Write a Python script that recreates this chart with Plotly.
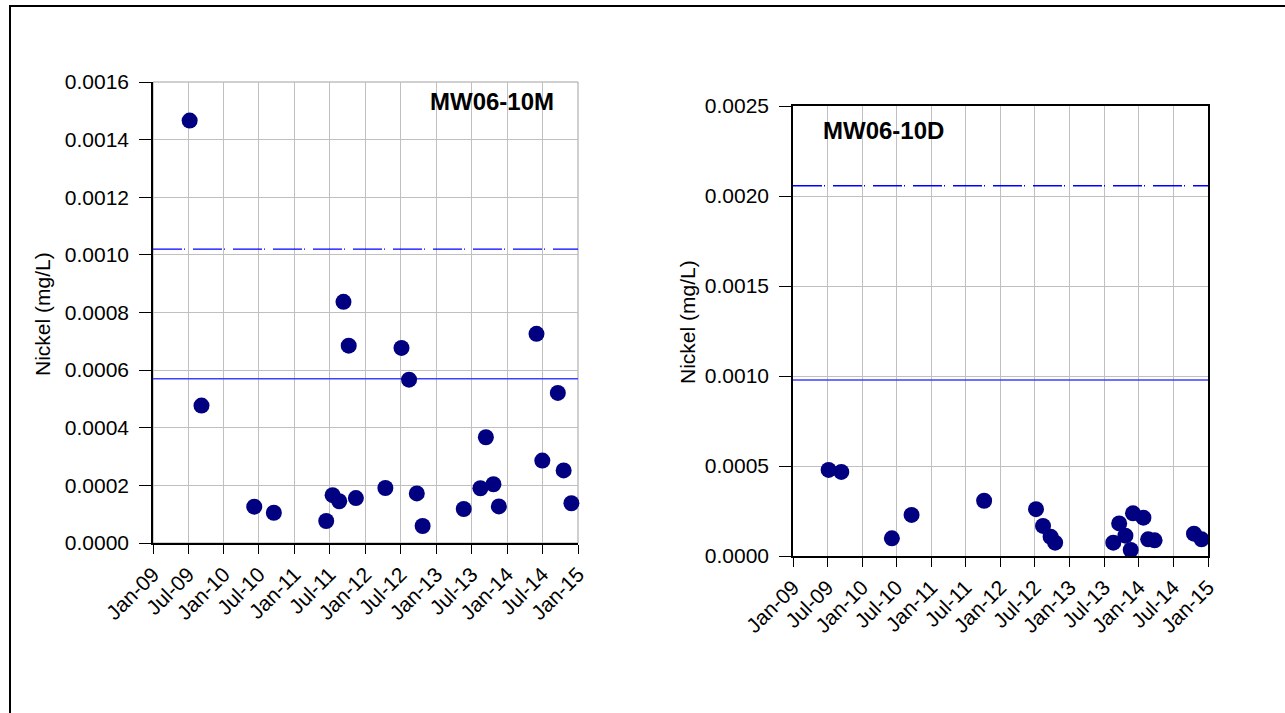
import plotly.graph_objects as go

# Monitoring well MW06-10M: nickel results
m_dates = [
    "2009-07-09", "2009-09-08", "2010-06-07", "2010-09-16", "2011-06-13",
    "2011-07-16", "2011-08-19", "2011-09-10", "2011-10-07", "2011-11-13",
    "2012-04-13", "2012-07-05", "2012-08-13", "2012-09-22", "2012-10-22",
    "2013-05-22", "2013-08-16", "2013-09-13", "2013-10-22", "2013-11-19",
    "2014-06-01", "2014-07-01", "2014-09-19", "2014-10-19", "2014-11-28",
]
m_nickel = [
    0.001466, 0.000477, 0.000126, 0.000105, 0.0000764,
    0.000166, 0.000145, 0.000837, 0.000685, 0.000156,
    0.000191, 0.000677, 0.000567, 0.000172, 0.000059,
    0.000118, 0.000190, 0.000367, 0.000204, 0.000127,
    0.000726, 0.000286, 0.000521, 0.000252, 0.000138,
]
m_upper_limit = 0.00102   # dash-dot guideline
m_lower_limit = 0.00057   # solid guideline

# Monitoring well MW06-10D: nickel results
d_dates = [
    "2009-07-08", "2009-09-13", "2010-06-07", "2010-09-19", "2011-10-07",
    "2012-07-07", "2012-08-13", "2012-09-22", "2012-10-16", "2013-08-19",
    "2013-09-19", "2013-10-22", "2013-11-19", "2013-12-01", "2014-01-25",
    "2014-02-19", "2014-03-25", "2014-10-19", "2014-11-28",
]
d_nickel = [
    0.000478, 0.000467, 0.0000983, 0.000228, 0.000307,
    0.000260, 0.000167, 0.000107, 0.000074, 0.000074,
    0.000181, 0.000113, 0.0000333, 0.000237, 0.000213,
    0.0000927, 0.000087, 0.000124, 0.0000927,
]
d_upper_limit = 0.002057
d_lower_limit = 0.000978

x_span = ["2009-01-01", "2015-01-01"]
y_title = "Nickel (mg/L)"

W, H = 1285, 713
FONT = "Liberation Sans, Arial, sans-serif"
MARKER = "#000080"
GRID = "#C0C0C0"
DASH_BLUE = "#0000FF"
SOLID_BLUE = "#4040FF"


def px_x(p):
    return p / W


def px_y(p):
    return 1 - p / H


fig = go.Figure()

panels = [
    dict(xa="x", ya="y", dates=m_dates, vals=m_nickel,
         up=m_upper_limit, low=m_lower_limit),
    dict(xa="x2", ya="y2", dates=d_dates, vals=d_nickel,
         up=d_upper_limit, low=d_lower_limit),
]

for p in panels:
    fig.add_trace(go.Scatter(
        x=x_span, y=[p["up"], p["up"]], mode="lines",
        line=dict(color=DASH_BLUE, width=1.3, dash="29px,2px,1px,8px"),
        xaxis=p["xa"], yaxis=p["ya"], showlegend=False, hoverinfo="skip"))
    fig.add_trace(go.Scatter(
        x=x_span, y=[p["low"], p["low"]], mode="lines",
        line=dict(color=SOLID_BLUE, width=1.5),
        xaxis=p["xa"], yaxis=p["ya"], showlegend=False, hoverinfo="skip"))
    fig.add_trace(go.Scatter(
        x=p["dates"], y=p["vals"], mode="markers",
        marker=dict(color=MARKER, size=16, line=dict(width=0)),
        xaxis=p["xa"], yaxis=p["ya"], showlegend=False,
        cliponaxis=False))

tick_font = dict(family=FONT, size=21, color="black")

xaxis_common = dict(
    type="date", range=x_span, tick0="2009-01-01", dtick="M6",
    tickformat="%b-%y", tickangle=-45, ticks="outside", ticklen=9,
    tickcolor="black", showline=True, linecolor="black", linewidth=1.5,
    showgrid=True, gridcolor=GRID, gridwidth=1, zeroline=False,
    tickfont=tick_font, automargin=False,
)
yaxis_common = dict(
    tickformat=".4f", ticks="outside", ticklen=12, tickcolor="black",
    showline=True, linecolor="black", linewidth=1.5, showgrid=True,
    gridcolor=GRID, gridwidth=1, zeroline=False, tickfont=tick_font,
    automargin=False, ticklabelstandoff=6,
)

fig.update_layout(
    width=W, height=H, autosize=False,
    margin=dict(l=0, r=0, t=0, b=0, pad=0),
    paper_bgcolor="white", plot_bgcolor="white",
    font=dict(family=FONT, color="black"),
    xaxis=dict(xaxis_common, domain=[px_x(153), px_x(578)], anchor="y"),
    yaxis=dict(yaxis_common, domain=[px_y(543), px_y(82)], range=[0, 0.0016],
               dtick=0.0002, anchor="x"),
    xaxis2=dict(xaxis_common, domain=[px_x(793), px_x(1208)], anchor="y2",
                mirror=True),
    yaxis2=dict(yaxis_common, domain=[px_y(556), px_y(106)], range=[0, 0.0025],
                dtick=0.0005, anchor="x2", mirror=True),
)

# Plot-area frame of the left panel in grey
fig.add_shape(type="rect", xref="x domain", yref="y domain",
              x0=0, x1=1, y0=0, y1=1, line=dict(color="#A0A0A0", width=1),
              layer="below")

# Outer chart border
fig.add_shape(type="rect", xref="paper", yref="paper",
              x0=px_x(10), x1=1.05, y0=-0.05, y1=px_y(6),
              line=dict(color="black", width=2))

annotations = [
    dict(text="<b>MW06-10M</b>", x=px_x(556), y=px_y(102), xanchor="right",
         yanchor="middle", font=dict(family=FONT, size=24)),
    dict(text="<b>MW06-10D</b>", x=px_x(821), y=px_y(131), xanchor="left",
         yanchor="middle", font=dict(family=FONT, size=24)),
    dict(text=y_title, x=px_x(42), y=px_y(314), textangle=-90,
         xanchor="center", yanchor="middle", font=dict(family=FONT, size=21)),
    dict(text=y_title, x=px_x(687), y=px_y(322), textangle=-90,
         xanchor="center", yanchor="middle", font=dict(family=FONT, size=21)),
]
for a in annotations:
    a.update(xref="paper", yref="paper", showarrow=False)
fig.update_layout(annotations=annotations)

fig.write_html("out.html")
